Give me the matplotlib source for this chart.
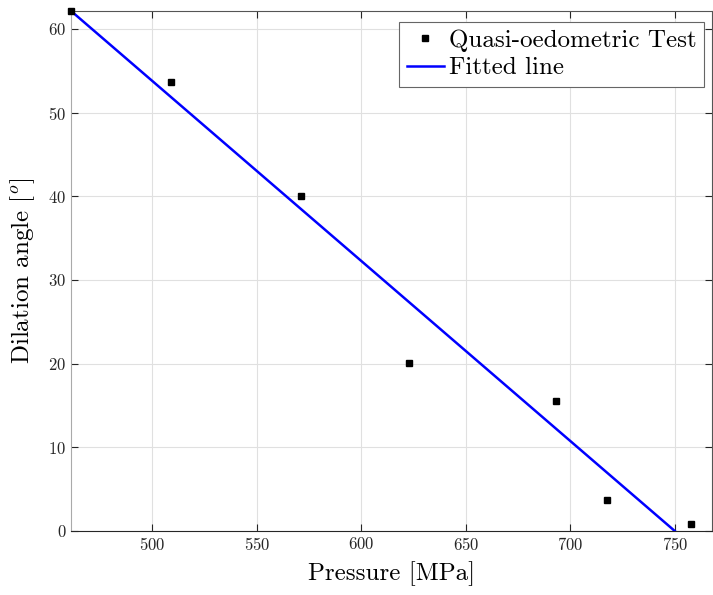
import numpy as np
import matplotlib.pyplot as plt

plt.rcParams['font.family'] = 'cmr10'
plt.rcParams['mathtext.fontset'] = 'cm'
plt.rcParams['axes.formatter.use_mathtext'] = True

# data
pressure = [461, 509, 571, 622.6, 693, 717.5, 758]
dilation = [62.15, 53.6, 40.0, 20.1, 15.5, 3.7, 0.8]

fit_x = [461, 750]
fit_y = [62.15, 0]

xticks = [500, 550, 600, 650, 700, 750]
yticks = [0, 10, 20, 30, 40, 50, 60]

fig = plt.figure(figsize=(7.13, 5.95), dpi=100)
ax = fig.add_axes([0.0996, 0.1076, 0.8995, 0.874])

ax.plot(pressure, dilation, 's', color='black', ms=5, label='Quasi-oedometric Test',
        clip_on=False, zorder=4)
ax.plot(fit_x, fit_y, '-', color='#0000ff', lw=1.8, label='Fitted line', zorder=3)

ax.set_xlim(461, 768)
ax.set_ylim(0, 62.15)
ax.set_xticks(xticks)
ax.set_yticks(yticks)
ax.grid(True, color='#e0e0e0', lw=0.8)
ax.set_axisbelow(True)

ax.tick_params(direction='in', top=True, right=True, labelsize=12, length=5, width=0.8,
               colors='#262626')
for s in ['top', 'right']:
    ax.spines[s].set_color('#555555')
    ax.spines[s].set_linewidth(0.8)
ax.spines['left'].set_color('#aaaaaa')
ax.spines['bottom'].set_color('#262626')

ax.set_xlabel('Pressure [MPa]', fontsize=18, labelpad=6)
ax.set_ylabel(r'Dilation angle [$^o$]', fontsize=18, labelpad=8)

leg = ax.legend(loc='upper right', fontsize=18, fancybox=False, framealpha=1,
                edgecolor='#666666', borderpad=0.3, handlelength=1.5,
                handletextpad=0.2, labelspacing=0.2, borderaxespad=0,
                bbox_to_anchor=(0.9875, 0.979))
leg.get_frame().set_linewidth(0.8)

fig.savefig('out.png', dpi=100)
